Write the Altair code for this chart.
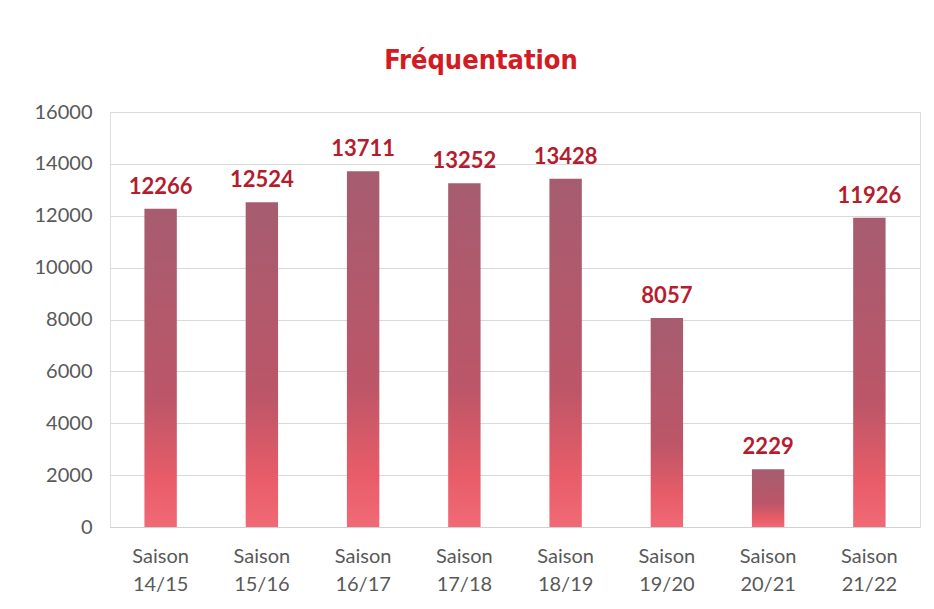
import altair as alt
import pandas as pd

seasons = ["14/15", "15/16", "16/17", "17/18", "18/19", "19/20", "20/21", "21/22"]
values = [12266, 12524, 13711, 13252, 13428, 8057, 2229, 11926]
y_ticks = [0, 2000, 4000, 6000, 8000, 10000, 12000, 14000, 16000]

df = pd.DataFrame({"saison": ["Saison " + s for s in seasons], "val": values})

x_enc = alt.X(
    "saison:N",
    sort=None,
    title=None,
    scale=alt.Scale(paddingInner=0.68, paddingOuter=0.34),
    axis=alt.Axis(
        labelAngle=0,
        labelExpr="split(datum.label, ' ')",
        labelFont="Lato",
        labelFontSize=20,
        labelColor="#595959",
        labelLineHeight=28,
        labelPadding=19,
        labelBaseline="top",
        ticks=False,
        domain=True,
        domainColor="#d0d0d0",
        grid=False,
    ),
)
y_enc = alt.Y(
    "val:Q",
    title=None,
    scale=alt.Scale(domain=[0, 16000], nice=False),
    axis=alt.Axis(
        values=y_ticks,
        format="d",
        labelFont="Lato",
        labelFontSize=20,
        labelColor="#595959",
        labelPadding=18,
        ticks=False,
        domain=False,
        gridColor="#d9d9d9",
        gridWidth=1,
    ),
)

grad = alt.Gradient(
    gradient="linear",
    stops=[
        alt.GradientStop(color="#a65c70", offset=0),
        alt.GradientStop(color="#bc5668", offset=0.6),
        alt.GradientStop(color="#e85c68", offset=0.85),
        alt.GradientStop(color="#f06a76", offset=1),
    ],
    x1=0, x2=0, y1=0, y2=1,
)

bars = alt.Chart(df).mark_bar(fill=grad).encode(x=x_enc, y=y_enc)
text = alt.Chart(df).mark_text(
    dy=-10, baseline="bottom", font="Lato", fontWeight="bold", fontSize=22, color="#b51d2f"
).encode(x=x_enc, y=y_enc, text=alt.Text("val:Q", format="d"))

chart = alt.layer(bars, text).properties(
    width=810,
    height=415,
    autosize="none",
    padding={"left": 102, "top": 104, "right": 6, "bottom": 74},
    title=alt.TitleParams(
        "Fréquentation",
        font="DejaVu Sans Condensed, Liberation Sans Narrow, Arial Narrow, sans-serif",
        fontSize=27,
        fontWeight="bold",
        color="#d41a22",
        anchor="middle",
        dx=-34,
        offset=27,
    ),
).configure_view(stroke=None).configure(background="white")

chart.save("out.html", embed_options={"renderer": "svg", "actions": False})
